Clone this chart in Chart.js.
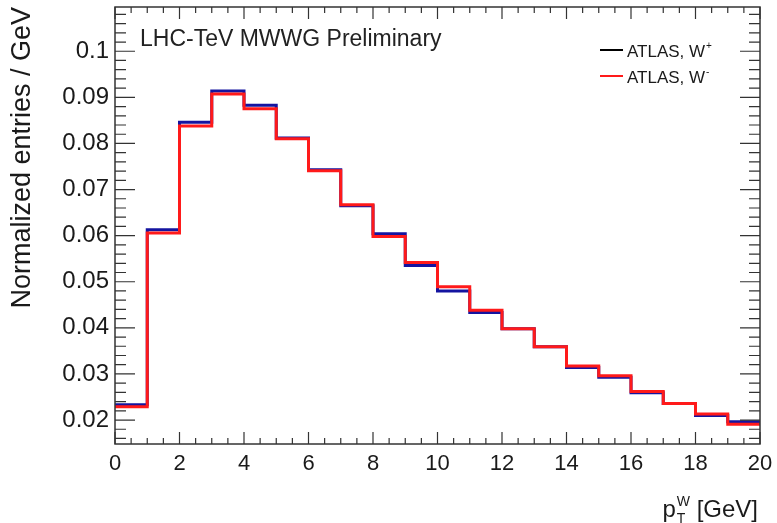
<!DOCTYPE html>
<html>
<head>
<meta charset="utf-8">
<script src="https://cdn.jsdelivr.net/npm/chart.js@4"></script>
<style>
    html, body { margin: 0; padding: 0; background: #fff; }
    canvas { display: block; }
</style>
</head>
<body>
<canvas id="ptwChart" width="777" height="523"></canvas>
<script>
// pT(W) distributions, normalized, 1 GeV bins from 0 to 20 GeV
const binEdges = [0, 1, 2, 3, 4, 5, 6, 7, 8, 9, 10, 11, 12, 13, 14, 15, 16, 17, 18, 19, 20];
const wPlus = [0.0233, 0.0613, 0.0846, 0.0914, 0.0883, 0.0812, 0.0743, 0.0665, 0.0604, 0.0535,
               0.0480, 0.0433, 0.0398, 0.0359, 0.0314, 0.0293, 0.0259, 0.0236, 0.0210, 0.0196];
const wMinus = [0.0229, 0.0606, 0.0838, 0.0907, 0.0875, 0.0810, 0.0741, 0.0667, 0.0598, 0.0542,
                0.0489, 0.0438, 0.0398, 0.0359, 0.0317, 0.0296, 0.0262, 0.0236, 0.0213, 0.0191];
const yTicks = [0.02, 0.03, 0.04, 0.05, 0.06, 0.07, 0.08, 0.09, 0.1];
const xTicks = [0, 2, 4, 6, 8, 10, 12, 14, 16, 18, 20];
const legendLabels = ['ATLAS, W', 'ATLAS, W'];
const legendCharges = ['+', '-'];
const plotLabel = 'LHC-TeV MWWG Preliminary';
const yTitle = 'Normalized entries / GeV';

const FONT = '"Liberation Sans", Arial, Helvetica, sans-serif';
const TEXT = '#1a1a1a';

// histogram as stepped line: one point per lower edge, plus the last upper edge
function toSteps(values) {
    return binEdges.map((e, i) => ({ x: e, y: values[Math.min(i, values.length - 1)] }));
}

// ROOT-like frame: box, major + minor ticks on all four sides, labels inside the pad
const rootFrame = {
    id: 'rootFrame',
    afterDraw(chart) {
        const ctx = chart.ctx;
        const area = chart.chartArea;
        const xs = chart.scales.x;
        const ys = chart.scales.y;

        ctx.save();
        ctx.strokeStyle = '#333';
        ctx.lineWidth = 1.5;
        ctx.strokeRect(area.left, area.top, area.right - area.left, area.bottom - area.top);

        ctx.lineWidth = 1.2;
        ctx.beginPath();
        for (let v = 0; v <= 20.001; v += 0.5) {
            const px = xs.getPixelForValue(v);
            const len = Math.abs(v % 2) < 1e-6 ? 12 : 6;
            ctx.moveTo(px, area.bottom);
            ctx.lineTo(px, area.bottom - len);
            ctx.moveTo(px, area.top);
            ctx.lineTo(px, area.top + len);
        }
        for (let k = 8; k <= 54; k++) {
            const v = k * 0.002;
            if (v < ys.min || v > ys.max) continue;
            const py = ys.getPixelForValue(v);
            const len = k % 5 === 0 ? 20 : 11;
            ctx.moveTo(area.left, py);
            ctx.lineTo(area.left + len, py);
            ctx.moveTo(area.right, py);
            ctx.lineTo(area.right - len, py);
        }
        ctx.stroke();

        // plot label
        ctx.fillStyle = '#222';
        ctx.font = '23px ' + FONT;
        ctx.textAlign = 'left';
        ctx.textBaseline = 'alphabetic';
        ctx.fillText(plotLabel, area.left + 25, 46);

        // legend
        const legendColors = ['#000000', '#ff1a1a'];
        const legendY = [50, 76];
        legendLabels.forEach((label, i) => {
            ctx.strokeStyle = legendColors[i];
            ctx.lineWidth = 2;
            ctx.beginPath();
            ctx.moveTo(600, legendY[i]);
            ctx.lineTo(623, legendY[i]);
            ctx.stroke();
            ctx.fillStyle = TEXT;
            ctx.font = '17px ' + FONT;
            ctx.fillText(label, 627, legendY[i] + 7);
            const w = ctx.measureText(label).width;
            ctx.font = '10px ' + FONT;
            ctx.fillText(legendCharges[i], 627 + w + 1, legendY[i] - 1);
        });

        // x axis title: p_T^W [GeV], right aligned to the frame
        const base = 517;
        ctx.textAlign = 'right';
        ctx.font = '24px ' + FONT;
        const xEnd = area.right - 2;
        ctx.fillText('[GeV]', xEnd, base);
        const unitW = ctx.measureText('[GeV] ').width;
        ctx.font = '14px ' + FONT;
        const scriptW = ctx.measureText('W').width;
        const scriptX = xEnd - unitW - scriptW;
        ctx.textAlign = 'left';
        ctx.fillText('W', scriptX, base - 11);
        ctx.fillText('T', scriptX, base + 6);
        ctx.textAlign = 'right';
        ctx.font = '24px ' + FONT;
        ctx.fillText('p', scriptX - 1, base);
        ctx.restore();
    }
};

const ctx = document.getElementById('ptwChart').getContext('2d');
const ptwChart = new Chart(ctx, {
    type: 'line',
    data: {
        datasets: [{
            label: 'ATLAS, W+',
            data: toSteps(wPlus),
            stepped: true,
            borderColor: '#1414a0',
            borderWidth: 3,
            pointRadius: 0,
            fill: false,
            order: 1
        }, {
            label: 'ATLAS, W-',
            data: toSteps(wMinus),
            stepped: true,
            borderColor: '#ff1a1a',
            borderWidth: 3,
            pointRadius: 0,
            fill: false,
            order: 0
        }]
    },
    options: {
        responsive: false,
        devicePixelRatio: 1,
        animation: false,
        layout: {
            padding: { left: 0, top: 7, right: 17, bottom: 0 }
        },
        scales: {
            x: {
                type: 'linear',
                min: 0,
                max: 20,
                afterBuildTicks: scale => {
                    scale.ticks = xTicks.map(v => ({ value: v }));
                },
                afterFit: scale => {
                    scale.height = 79;
                    scale.paddingLeft = 0;
                    scale.paddingRight = 0;
                },
                grid: { display: false, drawTicks: false },
                border: { display: false },
                ticks: {
                    color: TEXT,
                    font: { family: FONT, size: 22 },
                    padding: 7,
                    autoSkip: false,
                    maxRotation: 0
                }
            },
            y: {
                type: 'linear',
                min: 0.0148,
                max: 0.1096,
                afterBuildTicks: scale => {
                    scale.ticks = yTicks.map(v => ({ value: v }));
                },
                afterFit: scale => {
                    scale.width = 115;
                    scale.paddingTop = 0;
                    scale.paddingBottom = 0;
                },
                grid: { display: false, drawTicks: false },
                border: { display: false },
                ticks: {
                    color: TEXT,
                    font: { family: FONT, size: 24 },
                    padding: 6,
                    callback: value => String(parseFloat(value.toFixed(3)))
                },
                title: {
                    display: true,
                    text: yTitle,
                    align: 'end',
                    color: TEXT,
                    font: { family: FONT, size: 27 },
                    padding: { top: 6, bottom: 0 }
                }
            }
        },
        plugins: {
            legend: { display: false },
            tooltip: { enabled: false }
        }
    },
    plugins: [rootFrame]
});
</script>
</body>
</html>
